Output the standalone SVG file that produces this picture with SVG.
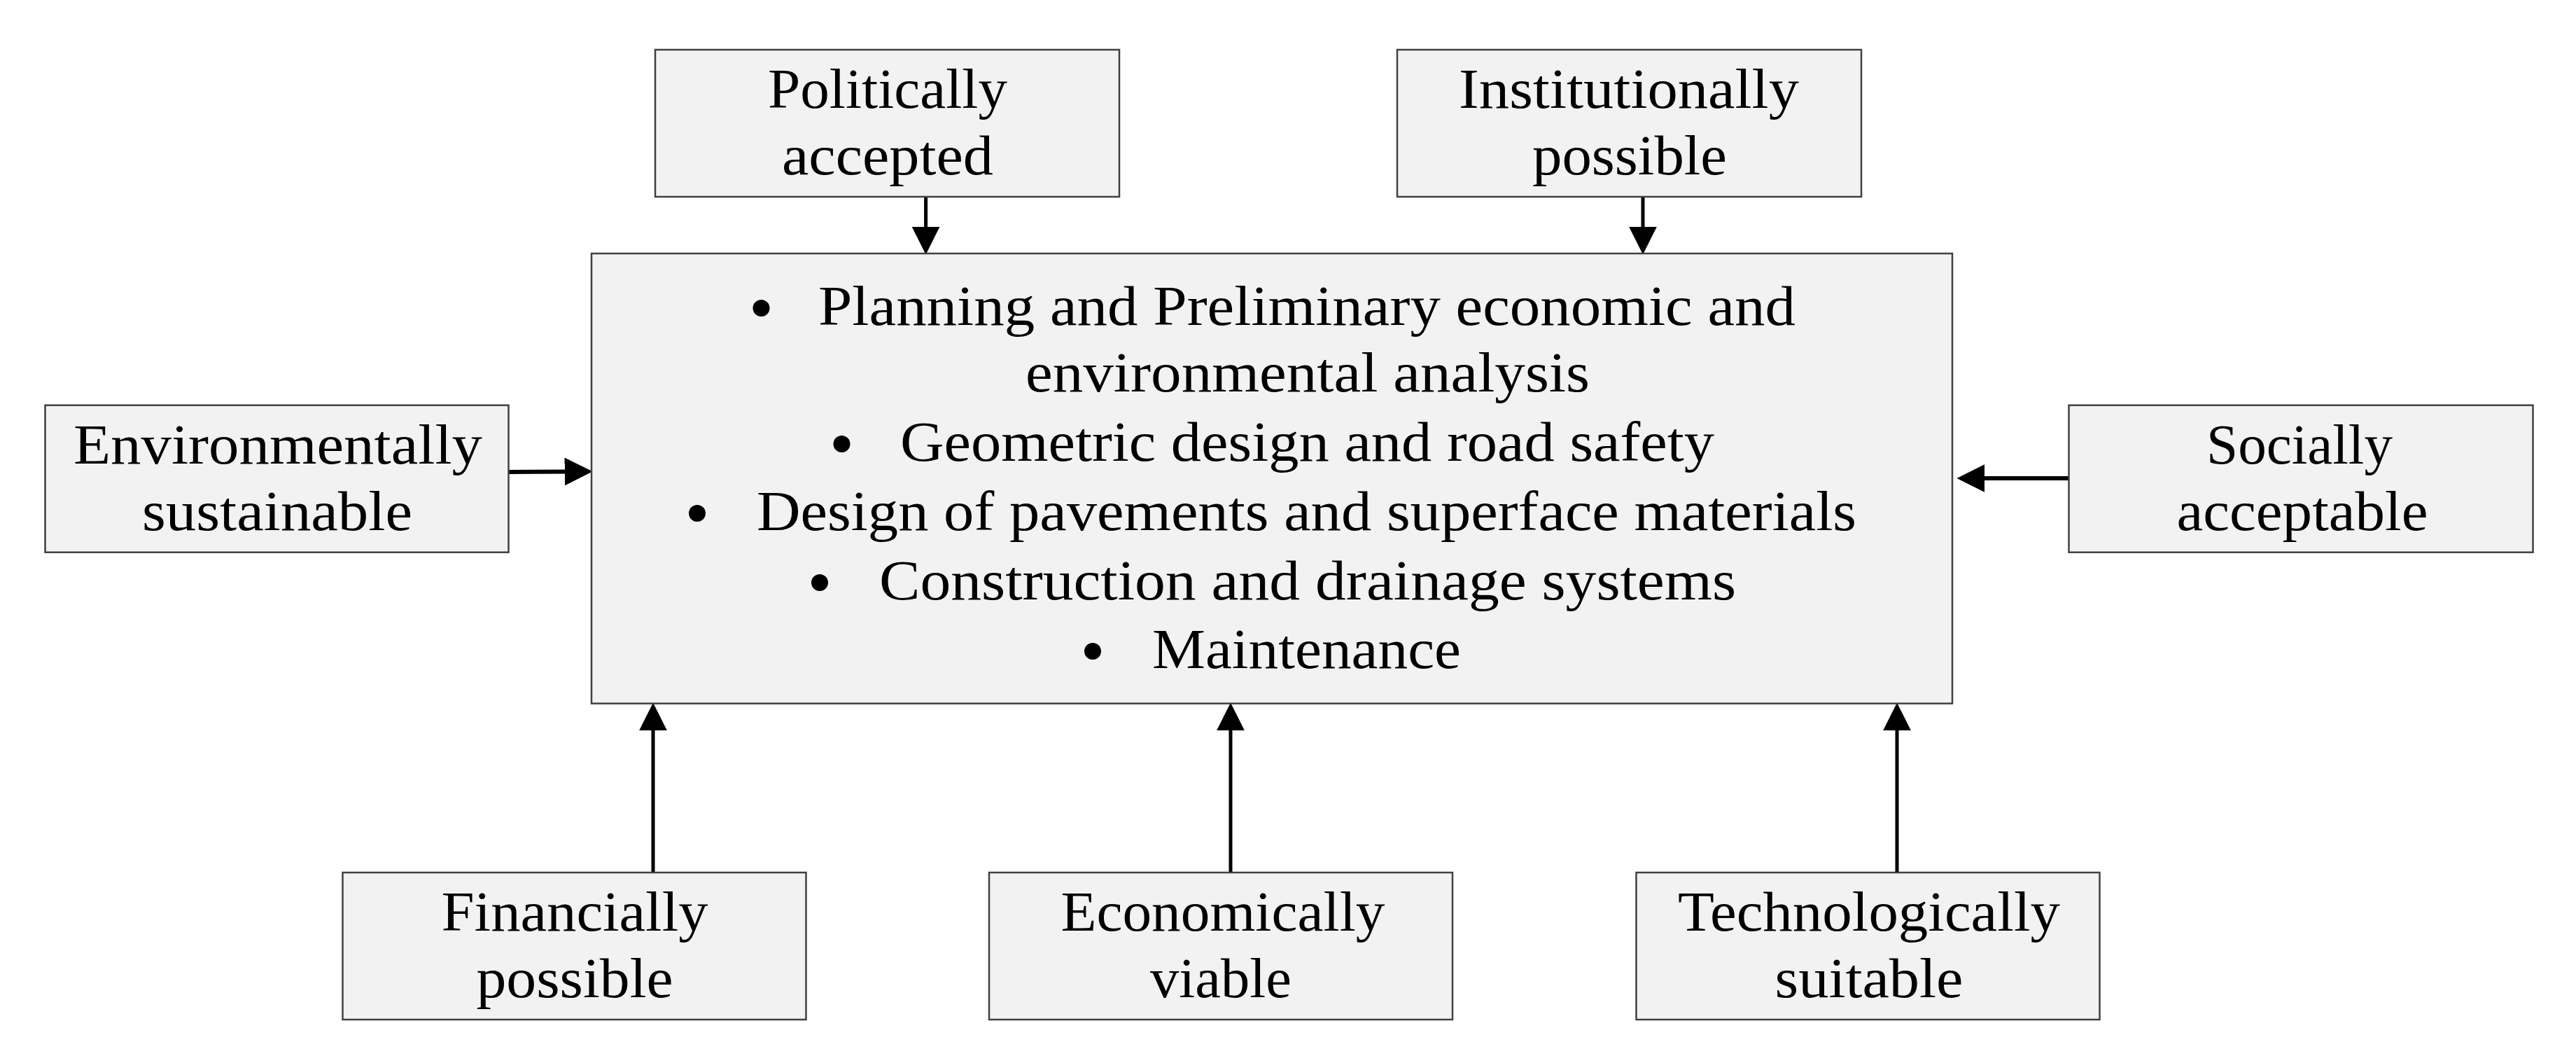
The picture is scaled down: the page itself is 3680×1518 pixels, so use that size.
<svg xmlns="http://www.w3.org/2000/svg" width="3680" height="1518" viewBox="0 0 3680 1518">
<style>
.box{fill:#f2f2f2;stroke:#404040;stroke-width:2.5}
.t{font-family:"Palatino Linotype","Book Antiqua",Palatino,"Liberation Serif",serif;font-size:80px;fill:#000}
.c{text-anchor:middle}
.conn{stroke:#000;stroke-width:5;fill:none;marker-end:url(#ah)}
.connh{stroke:#000;stroke-width:6;fill:none;marker-end:url(#ah)}
.bul{fill:#000}
</style>
<defs>
<marker id="ah" markerUnits="userSpaceOnUse" markerWidth="40" markerHeight="40" viewBox="0 0 38 38" refX="8" refY="19" orient="auto">
<path d="M0,0 L38,19 L0,38 z" fill="#000"/>
</marker>
</defs>
<rect width="3680" height="1518" fill="#fff"/>
<g id="connectors">
<line class="conn" x1="1322.6" y1="281" x2="1322.6" y2="332"/>
<line class="conn" x1="2347" y1="281" x2="2347" y2="332"/>
<line class="connh" x1="727" y1="674" x2="815" y2="673.5"/>
<line class="connh" x1="2955" y1="683" x2="2827" y2="683"/>
<line class="conn" x1="933" y1="1246" x2="933" y2="1035"/>
<line class="conn" x1="1758" y1="1246" x2="1758" y2="1035"/>
<line class="conn" x1="2710" y1="1246" x2="2710" y2="1035"/>
</g>
<g id="main">
<rect class="box" x="845" y="362" width="1944" height="642.6"/>
<circle class="bul" cx="1087.5" cy="440" r="12"/>
<text class="t" x="1169" y="464" textLength="1396" lengthAdjust="spacingAndGlyphs">Planning and Preliminary economic and</text>
<text class="t" x="1465" y="559" textLength="806" lengthAdjust="spacingAndGlyphs">environmental analysis</text>
<circle class="bul" cx="1202.5" cy="634" r="12"/>
<text class="t" x="1286" y="658" textLength="1163" lengthAdjust="spacingAndGlyphs">Geometric design and road safety</text>
<circle class="bul" cx="996" cy="733" r="12"/>
<text class="t" x="1081" y="757" textLength="1571" lengthAdjust="spacingAndGlyphs">Design of pavements and superface materials</text>
<circle class="bul" cx="1171" cy="832" r="12"/>
<text class="t" x="1256" y="856" textLength="1224" lengthAdjust="spacingAndGlyphs">Construction and drainage systems</text>
<circle class="bul" cx="1561" cy="930" r="12"/>
<text class="t" x="1646" y="954" textLength="441" lengthAdjust="spacingAndGlyphs">Maintenance</text>
</g>
<g id="politically">
<rect class="box" x="936" y="71" width="663" height="210"/>
<text class="t c" x="1268" y="154" textLength="342" lengthAdjust="spacingAndGlyphs">Politically</text>
<text class="t c" x="1268" y="249" textLength="302" lengthAdjust="spacingAndGlyphs">accepted</text>
</g>
<g id="institutionally">
<rect class="box" x="1996" y="71" width="663" height="210"/>
<text class="t c" x="2327" y="154" textLength="486" lengthAdjust="spacingAndGlyphs">Institutionally</text>
<text class="t c" x="2328" y="249" textLength="278" lengthAdjust="spacingAndGlyphs">possible</text>
</g>
<g id="environmentally">
<rect class="box" x="64.5" y="578.7" width="662" height="210"/>
<text class="t c" x="397" y="662" textLength="584" lengthAdjust="spacingAndGlyphs">Environmentally</text>
<text class="t c" x="396" y="757" textLength="386" lengthAdjust="spacingAndGlyphs">sustainable</text>
</g>
<g id="socially">
<rect class="box" x="2955.5" y="578.7" width="663" height="210"/>
<text class="t c" x="3285" y="662" textLength="266" lengthAdjust="spacingAndGlyphs">Socially</text>
<text class="t c" x="3289" y="757" textLength="359" lengthAdjust="spacingAndGlyphs">acceptable</text>
</g>
<g id="financially">
<rect class="box" x="489.5" y="1246" width="662" height="210"/>
<text class="t c" x="821" y="1329" textLength="381" lengthAdjust="spacingAndGlyphs">Financially</text>
<text class="t c" x="821" y="1424" textLength="281" lengthAdjust="spacingAndGlyphs">possible</text>
</g>
<g id="economically">
<rect class="box" x="1413" y="1246" width="662" height="210"/>
<text class="t c" x="1747" y="1329" textLength="463" lengthAdjust="spacingAndGlyphs">Economically</text>
<text class="t c" x="1744" y="1424" textLength="202" lengthAdjust="spacingAndGlyphs">viable</text>
</g>
<g id="technologically">
<rect class="box" x="2337.5" y="1246" width="662" height="210"/>
<text class="t c" x="2670" y="1329" textLength="546" lengthAdjust="spacingAndGlyphs">Technologically</text>
<text class="t c" x="2670" y="1424" textLength="269" lengthAdjust="spacingAndGlyphs">suitable</text>
</g>
</svg>
